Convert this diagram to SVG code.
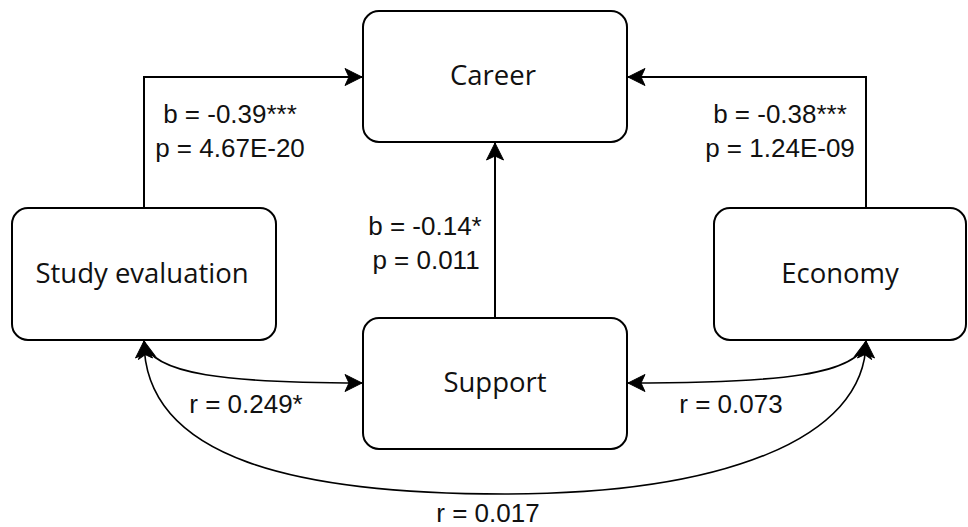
<svg xmlns="http://www.w3.org/2000/svg" width="968" height="527" viewBox="0 0 968 527">
  <style>
    .node rect { fill: #ffffff; stroke: #000000; stroke-width: 2; }
    .node text { font-family: "Open Sans", "Noto Sans", sans-serif; font-size: 27.5px; fill: #111111; text-anchor: middle; }
    .edge { fill: none; stroke: #000000; stroke-width: 2; }
    .curve { fill: none; stroke: #000000; stroke-width: 1.6; }
    .lbl { font-family: "Liberation Sans", Arial, sans-serif; font-size: 26px; fill: #111111; text-anchor: middle; }
  </style>
  <defs>
    <marker id="arr" markerUnits="userSpaceOnUse" markerWidth="20" markerHeight="20" viewBox="-18 -10 20 20" refX="0" refY="0" orient="auto-start-reverse">
      <path d="M0,0 L-17,-8.5 L-13,0 L-17,8.5 Z" fill="#000000" stroke="#000000" stroke-width="1" stroke-linejoin="miter"/>
    </marker>
  </defs>
  <rect width="968" height="527" fill="#ffffff"/>

  <g id="connectors">
    <path class="edge" d="M144,208 L144,77 L362,77" marker-end="url(#arr)"/>
    <path class="edge" d="M866,208 L866,77 L628,77" marker-end="url(#arr)"/>
    <path class="edge" d="M495,318 L495,143" marker-end="url(#arr)"/>
    <path class="curve" d="M144,341 C150,375 230,383 362,383" marker-start="url(#arr)" marker-end="url(#arr)"/>
    <path class="curve" d="M866,341 C860,375 780,383 628,383" marker-start="url(#arr)" marker-end="url(#arr)"/>
    <path class="curve" d="M144,341 C144,460 300,494 505,494 C720,494 866,440 866,341" marker-start="url(#arr)" marker-end="url(#arr)"/>
  </g>

  <g id="career" class="node">
    <rect x="363" y="11" width="264" height="131" rx="16" ry="16"/>
    <text x="493" y="85">Career</text>
  </g>
  <g id="study-evaluation" class="node">
    <rect x="12" y="208" width="264" height="132" rx="16" ry="16"/>
    <text x="142" y="283">Study evaluation</text>
  </g>
  <g id="economy" class="node">
    <rect x="714" y="208" width="252" height="132" rx="16" ry="16"/>
    <text x="840" y="283">Economy</text>
  </g>
  <g id="support" class="node">
    <rect x="363" y="318" width="264" height="131" rx="16" ry="16"/>
    <text x="495" y="392">Support</text>
  </g>

  <g id="labels">
    <text class="lbl" x="230" y="123">b = -0.39***</text>
    <text class="lbl" x="230" y="157">p = 4.67E-20</text>
    <text class="lbl" x="780" y="123">b = -0.38***</text>
    <text class="lbl" x="780" y="157">p = 1.24E-09</text>
    <text class="lbl" x="425" y="235">b = -0.14*</text>
    <text class="lbl" x="426" y="269">p = 0.011</text>
    <text class="lbl" x="246" y="413">r = 0.249*</text>
    <text class="lbl" x="731" y="413">r = 0.073</text>
    <text class="lbl" x="488" y="522">r = 0.017</text>
  </g>
</svg>
